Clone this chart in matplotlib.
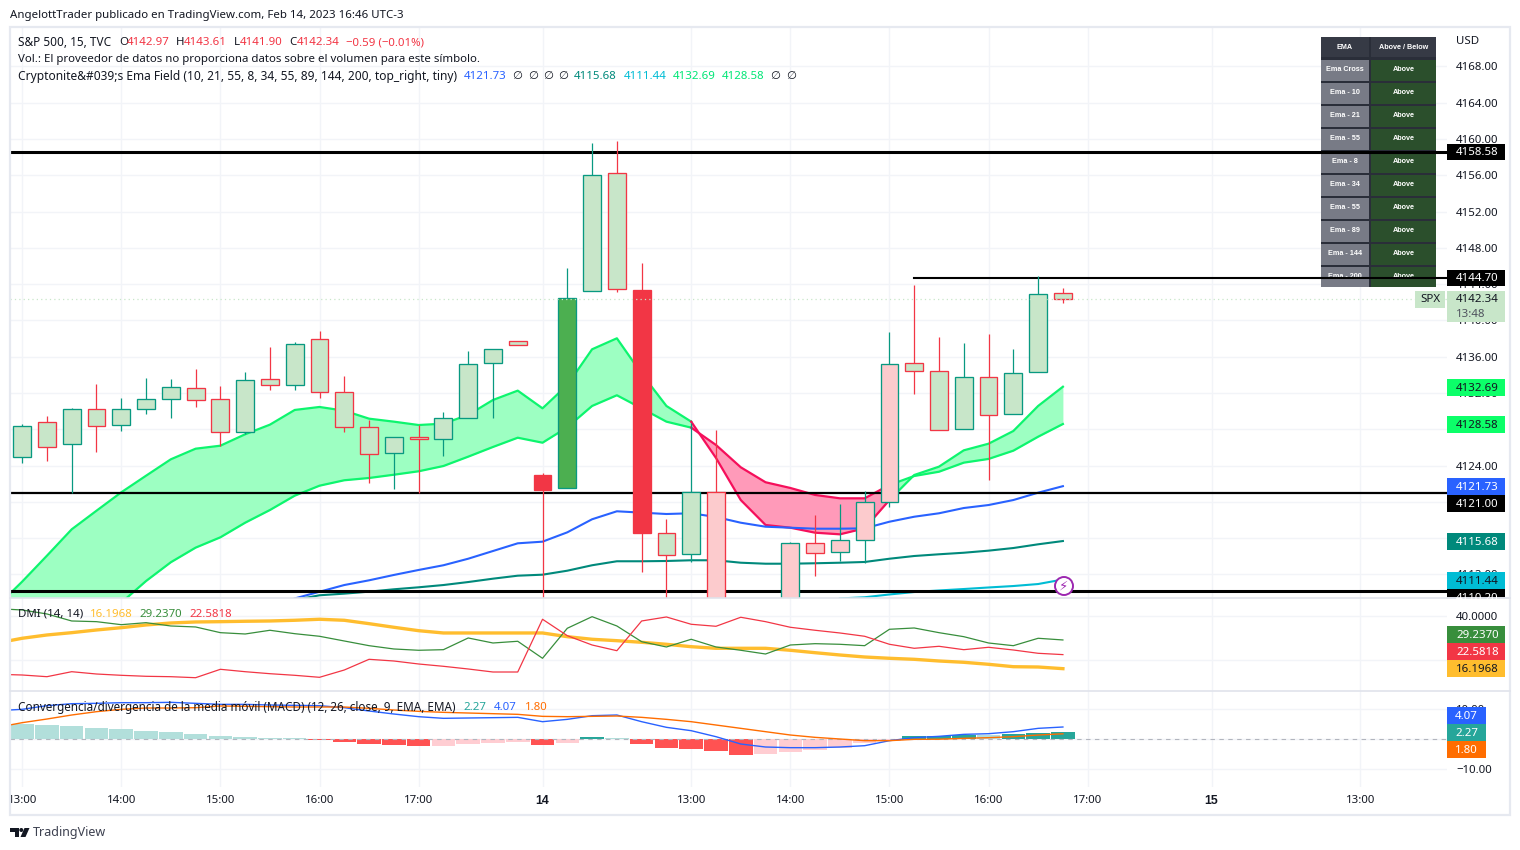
import numpy as np
import matplotlib
matplotlib.use("Agg")
import matplotlib.pyplot as plt
from matplotlib.patches import Rectangle, Circle, Polygon

nan = np.nan

# 15 min candles, S&P 500 (the ones under the pane are guessed, they get cut off anyway)
opens = [4124.91, 4128.77, 4126.35, 4130.20, 4128.44, 4130.20, 4131.31, 4132.52, 4131.31, 4127.67, 4133.51,
         4132.85, 4137.92, 4132.08, 4128.22, 4125.35, 4127.12, 4126.90, 4129.21, 4135.28, 4137.70, 4122.96,
         4121.49, 4143.21, 4156.22, 4143.36, 4116.53, 4114.22, 4121.05, 4107.00, 4104.00, 4107.00, 4115.43,
         4114.44, 4115.76, 4119.95, 4135.28, 4134.39, 4128.00, 4133.73, 4129.65, 4134.28, 4142.97]
closes = [4128.33, 4126.02, 4130.20, 4128.33, 4130.20, 4131.31, 4132.63, 4131.20, 4127.67, 4133.40, 4132.85,
          4137.37, 4132.08, 4128.22, 4125.24, 4127.12, 4126.90, 4129.21, 4135.17, 4136.82, 4137.26, 4121.34,
          4142.44, 4156.00, 4143.43, 4116.60, 4114.11, 4121.05, 4107.00, 4104.00, 4108.00, 4115.43, 4114.33,
          4115.76, 4119.95, 4135.17, 4134.39, 4127.89, 4133.73, 4129.54, 4134.17, 4142.88, 4142.34]
highs = [4128.58, 4129.47, 4130.35, 4132.99, 4131.45, 4133.66, 4133.55, 4134.65, 4132.77, 4134.32, 4137.07,
         4137.62, 4138.84, 4133.88, 4129.02, 4127.12, 4128.44, 4129.91, 4136.63, 4136.82, 4137.70, 4123.15,
         4145.78, 4159.53, 4159.78, 4146.33, 4118.11, 4128.69, 4127.92, 4108.50, 4109.00, 4115.54, 4118.55,
         4119.76, 4121.20, 4138.73, 4143.91, 4138.18, 4137.51, 4138.51, 4136.85, 4144.90, 4143.61]
lows = [4124.32, 4124.54, 4120.98, 4125.53, 4127.85, 4129.72, 4129.28, 4130.49, 4126.19, 4127.48, 4132.37,
        4132.37, 4131.48, 4127.74, 4122.11, 4121.45, 4120.98, 4125.09, 4129.21, 4129.28, 4137.26, 4109.00,
        4121.49, 4143.21, 4143.17, 4112.30, 4109.00, 4113.40, 4105.00, 4103.00, 4103.00, 4106.00, 4111.86,
        4113.51, 4113.23, 4119.40, 4131.92, 4127.89, 4128.00, 4122.44, 4129.65, 4134.28, 4141.90]

# ema field, the line arrays start one bar before the first candle
ema_fast = [4108.52, 4111.20, 4114.06, 4116.97, 4119.02, 4121.05, 4122.88, 4124.69, 4125.86, 4126.19, 4127.45, 4128.51,
            4130.13, 4130.46, 4130.05, 4129.17, 4128.84, 4128.47, 4128.62, 4129.58, 4131.23, 4132.26, 4130.31,
            4132.88, 4136.82, 4138.03, 4134.13, 4130.57, 4128.84, 4124.84, 4120.20, 4117.45, 4117.15, 4116.60,
            4116.42, 4117.08, 4120.20, 4122.96, 4123.88, 4125.68, 4126.41, 4127.81, 4130.57, 4132.69]
ema_slow = [4097.00, 4099.26, 4101.46, 4103.67, 4106.42, 4108.88, 4111.27, 4113.34, 4114.95, 4116.09, 4117.70, 4119.10,
            4120.68, 4121.78, 4122.38, 4122.63, 4122.99, 4123.37, 4123.95, 4124.98, 4126.05, 4127.07, 4126.52,
            4128.22, 4130.57, 4131.75, 4130.31, 4128.84, 4128.18, 4126.27, 4123.81, 4122.16, 4121.53, 4120.76,
            4120.39, 4120.39, 4121.86, 4122.85, 4123.32, 4124.32, 4124.73, 4125.64, 4127.18, 4128.58]
ema_blue = [nan] * 12 + [4109.35, 4110.09, 4110.83, 4111.35, 4111.94, 4112.49, 4113.01, 4113.73, 4114.58, 4115.43,
                         4115.61, 4116.64, 4118.08, 4118.96, 4118.81, 4118.66, 4118.74, 4118.33, 4117.70, 4117.26,
                         4117.15, 4117.04, 4117.04, 4117.08, 4117.81, 4118.36, 4118.74, 4119.32, 4119.65, 4120.20,
                         4121.01, 4121.73]
ema_teal = [nan] * 12 + [4109.18, 4109.70, 4109.88, 4110.10, 4110.36, 4110.58, 4110.83, 4111.16, 4111.53, 4111.86,
                         4111.97, 4112.41, 4113.01, 4113.45, 4113.45, 4113.48, 4113.56, 4113.56, 4113.29, 4113.18,
                         4113.18, 4113.23, 4113.29, 4113.37, 4113.73, 4114.03, 4114.22, 4114.39, 4114.62, 4114.91,
                         4115.32, 4115.68]
ema_cyan = [nan] * 34 + [4109.35, 4109.48, 4109.79, 4110.06, 4110.23, 4110.39, 4110.56, 4110.72, 4110.94, 4111.44]

hline_prices = [4158.58, 4121.00, 4110.20]
short_line_price = 4144.70

# DMI
adx = [27.86, 30.0, 31.5, 32.55, 33.77, 34.82, 36.05, 36.95, 37.41, 37.55, 37.73, 37.86, 38.18, 38.64, 38.18, 36.64,
       35.0, 33.45, 32.41, 32.41, 32.41, 32.41, 32.41, 30.73, 29.55, 28.91, 28.18, 27.27, 26.18, 25.45, 25.45,
       25.45, 24.55, 23.45, 22.41, 21.5, 20.91, 20.45, 19.68, 19.09, 18.18, 17.09, 16.95, 16.1968]
di_plus = [43.45, 42.86, 41.05, 37.86, 37.55, 36.18, 37.09, 35.59, 35.14, 32.55, 31.95, 33.64, 32.09, 30.91, 28.77, 26.64,
           25.14, 24.55, 24.82, 30.14, 27.86, 28.64, 20.91, 34.55, 39.82, 35.59, 28.45, 26.05, 29.55, 26.05, 24.55,
           22.86, 26.95, 27.55, 27.27, 26.64, 34.09, 34.68, 32.55, 30.73, 27.86, 26.64, 30.0, 29.237]
di_minus = [13.64, 13.32, 12.55, 14.82, 13.77, 13.18, 12.73, 12.55, 12.09, 15.91, 14.82, 13.91, 13.18, 12.27, 15.59, 20.45,
            19.68, 18.32, 17.27, 16.05, 14.68, 14.68, 38.64, 31.18, 26.95, 24.36, 37.86, 39.68, 36.36, 35.45, 39.55,
            37.55, 35.0, 33.64, 32.41, 30.91, 27.27, 25.45, 26.36, 24.82, 25.91, 24.68, 23.18, 22.5818]

# MACD
macd_hist = [5.18, 4.73, 4.4, 3.73, 3.4, 2.73, 2.4, 1.73, 1.07, 0.73, 0.4, 0.29, -0.27, -0.93, -1.6, -1.93, -2.27,
             -2.27, -1.6, -1.27, -0.93, -1.93, -1.27, 0.73, 0.29, -1.6, -2.89, -3.22, -3.89, -5.22, -4.89, -4.22,
             -3.55, -2.78, -1.27, -0.6, 1.07, 1.2, 1.4, 1.3, 1.73, 2.07, 2.27]
macd_line = [9.51, 9.96, 11.18, 11.84, 11.96, 12.18, 12.18, 12.29, 11.96, 11.62, 11.62, 11.4, 11.29, 11.18, 10.51, 9.4, 8.4,
             7.51, 6.96, 7.07, 7.18, 7.29, 5.84, 6.62, 7.84, 8.07, 5.84, 3.96, 2.84, 0.84, -1.6, -2.6, -2.82, -2.82,
             -2.6, -2.16, -0.49, 0.51, 0.96, 1.62, 1.84, 2.51, 3.62, 4.07]
macd_signal = [3.96, 5.51, 6.73, 8.07, 9.18, 9.96, 10.4, 10.4, 10.51, 11.07, 10.96, 10.84, 10.73, 10.73, 10.73, 10.29, 9.73,
               9.29, 8.96, 8.73, 8.51, 8.29, 7.62, 7.51, 7.62, 7.73, 7.29, 6.62, 5.84, 4.73, 3.62, 2.51, 1.4, 0.62,
               0.07, -0.49, -0.49, -0.04, 0.0, 0.29, 0.51, 0.84, 1.4, 1.80]

# axis
time_ticks = [0, 4, 8, 12, 16, 21, 27, 31, 35, 39, 43, 48, 54]
time_labels = ["13:00", "14:00", "15:00", "16:00", "17:00", "14", "13:00", "14:00", "15:00", "16:00", "17:00", "15", "13:00"]
price_ticks = [4112 + 4 * k for k in range(15)]

# table
table_rows = ["Ema Cross", "Ema - 10", "Ema - 21", "Ema - 55", "Ema - 8", "Ema - 34", "Ema - 55", "Ema - 89", "Ema - 144", "Ema - 200"]
table_status = ["Above"] * 10

W, H = 1520, 850
TEAL, RED = "#089981", "#f23645"
PALE, PINK = "#c8e6c9", "#fccbcd"
INK = "#131722"
GRID = "#f2f4f8"
ADX_COL = "#ffbd2e"
FS = 8.25
BOLD = "Liberation Sans"
X_LEFT, X_RIGHT = -0.49, 57.5

plt.rcParams["font.family"] = ["Noto Sans", "DejaVu Sans"]
plt.rcParams["font.size"] = FS

fig = plt.figure(figsize=(W / 100, H / 100), dpi=100, facecolor="white")


def pane(top, bottom):
    a = fig.add_axes([10 / W, 1 - bottom / H, 1437 / W, (bottom - top) / H])
    a.set_xlim(X_LEFT, X_RIGHT)
    for s in a.spines.values():
        s.set_visible(False)
    a.yaxis.tick_right()
    a.set_axisbelow(True)
    a.grid(True, color=GRID, lw=1)
    a.tick_params(length=0, labelcolor=INK, labelsize=FS, pad=6.5)
    a.set_xticks(time_ticks)
    a.set_xticklabels([])
    return a


ax = pane(28, 598)
ax.set_ylim(4109.40, 4172.24)
ax.set_yticks(price_ticks)
ax.set_yticklabels(["%.2f" % p for p in price_ticks])

ax_dmi = pane(598, 691)
ax_dmi.set_ylim(6.05, 48.3)
ax_dmi.set_yticks([20, 40])
ax_dmi.set_yticklabels(["20.0000", "40.0000"])

ax_macd = pane(691, 787)
ax_macd.set_ylim(-15.93, 16.07)
ax_macd.set_yticks([-10, 0, 10])
ax_macd.set_yticklabels(["\u221210.00", "0.00", "10.00"])
ax_macd.set_xticklabels(time_labels)
ax_macd.tick_params(axis="x", pad=6)
for lab, txt in zip(ax_macd.get_xticklabels(), time_labels):
    if ":" not in txt:
        lab.set_family(BOLD)
        lab.set_fontweight("bold")
        lab.set_fontsize(8.8)

# pixel overlay for the boxes and texts
ov = fig.add_axes([0, 0, 1, 1], zorder=10)
ov.set_xlim(0, W)
ov.set_ylim(H, 0)
ov.axis("off")
ov.patch.set_alpha(0)

# first time label gets cut by the frame like in the screenshot
first_label = ax_macd.get_xticklabels()[0]
first_label.set_clip_on(True)
first_label.set_clip_path(Rectangle((9, 787), 100, 28, transform=ov.transData))

xs = np.arange(len(opens))
xl = np.arange(-1, len(opens))

# ema field, green / pink / green
fast = np.array(ema_fast)
slow = np.array(ema_slow)
segments = [(0, 29, "#9dffc2", "#0df56e"), (28, 37, "#ff9ab9", "#f50f5b"), (36, 44, "#9dffc2", "#0df56e")]
for a, b, fill, line in segments:
    ax.fill_between(xl[a:b], fast[a:b], slow[a:b], color=fill, lw=0, zorder=2.2)
    ax.plot(xl[a:b], fast[a:b], color=line, lw=1.6, zorder=2.5)
    ax.plot(xl[a:b], slow[a:b], color=line, lw=1.6, zorder=2.5)
ax.plot(xl, ema_blue, color="#2962ff", lw=1.5, zorder=2.6)
ax.plot(xl, ema_teal, color="#00897b", lw=1.5, zorder=2.6)
ax.plot(xl, ema_cyan, color="#00bcd4", lw=1.5, zorder=2.6)

# levels
ax.axhline(hline_prices[0], color="black", lw=2.2, zorder=3)
ax.axhline(hline_prices[1], color="black", lw=1.6, zorder=3)
ax.axhline(hline_prices[2], color="black", lw=2.2, zorder=3)
ax.plot([36, X_RIGHT], [short_line_price] * 2, color="black", lw=1.5, zorder=3)

# candles
for i in xs:
    up = closes[i] >= opens[i]
    edge = TEAL if up else RED
    body = PALE
    if 28 <= i <= 35:
        body = PINK
    if i in (21, 25):
        body = RED
    if i == 22:
        body = "#4caf50"
    ax.vlines(i, lows[i], highs[i], color=edge, lw=0.9, zorder=4)
    ax.bar(i, abs(closes[i] - opens[i]), bottom=min(opens[i], closes[i]), width=0.72,
           facecolor=body, edgecolor=edge, lw=0.95, zorder=4.2)

ax.axhline(closes[-1], color=PALE, lw=0.9, ls=(0, (1, 2.5)), zorder=5)

# table, under the levels
tbl_font = dict(transform=ov.transData, color="white", fontsize=5.2, family=BOLD, fontweight="bold",
                ha="center", va="center", zorder=2.1)
ax.add_patch(Rectangle((1321, 37), 115, 250, transform=ov.transData, fc="#2a2e39", ec="none", zorder=2))
ax.add_patch(Rectangle((1321, 37), 48, 20, transform=ov.transData, fc="#363a45", ec="none", zorder=2.05))
ax.add_patch(Rectangle((1371, 37), 65, 20, transform=ov.transData, fc="#363a45", ec="none", zorder=2.05))
ax.text(1345, 47, "EMA", **tbl_font)
ax.text(1404, 47, "Above / Below", **tbl_font)
for k, (name, status) in enumerate(zip(table_rows, table_status)):
    top = 60 + 23 * k
    h = 20 if k == 9 else 21
    ax.add_patch(Rectangle((1321, top), 48, h, transform=ov.transData, fc="#787b86", ec="none", zorder=2.05))
    ax.add_patch(Rectangle((1371, top), 65, h, transform=ov.transData, fc="#2b4f2c", ec="none", zorder=2.05))
    t1 = ax.text(1345, top + 9.5, name, **tbl_font)
    t2 = ax.text(1404, top + 9.5, status, **tbl_font)
    if k == 9:
        clip = Rectangle((1321, top), 115, 11, transform=ov.transData)
        t1.set_clip_path(clip)
        t2.set_clip_path(clip)

# DMI
ax_dmi.plot(xl, adx, color=ADX_COL, lw=2.4, zorder=3)
ax_dmi.plot(xl, di_plus, color="#388e3c", lw=0.9, zorder=3)
ax_dmi.plot(xl, di_minus, color=RED, lw=0.9, zorder=3)

# MACD
hist_colors = []
for i, v in enumerate(macd_hist):
    prev = macd_hist[i - 1] if i else v
    if v >= 0:
        hist_colors.append("#26a69a" if v > prev else "#b2dfdb")
    else:
        hist_colors.append("#ff5252" if v < prev else "#ffcdd2")
ax_macd.bar(xs, macd_hist, width=0.95, color=hist_colors, zorder=2)
ax_macd.axhline(0, color="#b2b5be", lw=0.8, ls=(0, (4, 4)), zorder=2.5)
ax_macd.plot(xl, macd_line, color="#2962ff", lw=1.0, zorder=3)
ax_macd.plot(xl, macd_signal, color="#ff6d00", lw=1.0, zorder=3)

# frame and pane separators
ov.add_patch(Rectangle((10, 27), 1500, 788, fc="none", ec="#e6e9f0", lw=1.6))
ov.plot([10, 1510], [598, 598], color="#e0e3eb", lw=1.2)
ov.plot([10, 1510], [691, 691], color="#e0e3eb", lw=1.2)


def box(y0, y1, label, bg, fg, right=1505, tx=1456):
    ov.add_patch(Rectangle((1447, y0), right - 1447, y1 - y0, fc=bg, ec="none"))
    return ov.text(tx, (y0 + y1) / 2 + 0.6, label, color=fg, fontsize=FS, va="center", ha="left")


box(144, 160, "4158.58", "black", "white")
box(270, 286, "4144.70", "black", "white")
box(379, 396, "4132.69", "#0cff69", INK)
box(416, 433, "4128.58", "#0cff69", INK)
box(478, 495, "4121.73", "#2962ff", "white")
box(495, 512, "4121.00", "black", "white")
box(533, 550, "4115.68", "#00897b", "white")
box(572, 589, "4111.44", "#00bcd4", INK)
t = box(589, 606, "4110.20", "black", "white")
t.set_clip_path(Rectangle((1447, 589), 58, 9, transform=ov.transData))
ov.add_patch(Rectangle((1447, 598), 58, 9, fc="white", ec="none"))
ov.plot([1447, 1510], [598, 598], color="#e0e3eb", lw=1.2)

# last price
ov.add_patch(Rectangle((1447, 291), 58, 31, fc=PALE, ec="none"))
ov.text(1456, 300, "4142.34", color=INK, fontsize=FS, va="center")
ov.text(1456, 314.5, "13:48", color="#50535e", fontsize=FS, va="center")
ov.add_patch(Rectangle((1415, 291), 30, 17, fc=PALE, ec="none"))
ov.text(1430, 300, "SPX", color=INK, fontsize=FS, va="center", ha="center")

box(626, 643, "29.2370", "#388e3c", "white")
box(643, 660, "22.5818", RED, "white")
box(660, 677, "16.1968", ADX_COL, INK)
box(707, 724, "4.07", "#2962ff", "white", right=1486, tx=1455)
box(724, 741, "2.27", "#26a69a", "white", right=1486, tx=1455)
box(741, 758, "1.80", "#ff6d00", "white", right=1486, tx=1455)
ov.text(1456, 41.5, "USD", color=INK, fontsize=FS, va="center")

# the little flash icon
ov.add_patch(Circle((1064, 586), 9, fc="white", ec="#9c27b0", lw=1.4))
ov.text(1064, 586, "\u26a1", color="#9c27b0", fontsize=9.5, family="DejaVu Sans", ha="center", va="center")


def text_row(y, parts):
    for x, s, c in parts:
        ov.text(x, y, s, color=c, fontsize=FS, va="center", ha="left")


ov.text(10, 15.5, "AngelottTrader publicado en TradingView.com, Feb 14, 2023 16:46 UTC-3", color=INK, fontsize=FS, va="center")
ov.text(18, 42.5, "S&P 500, 15, TVC", color=INK, fontsize=8.5, va="center")
text_row(42.5, [(119, "O", INK), (127, "4142.97", RED), (176, "H", INK), (184, "4143.61", RED), (234, "L", INK), (240, "4141.90", RED),
                (289, "C", INK), (297, "4142.34", RED), (346, "\u22120.59 (\u22120.01%)", RED)])
ov.text(18, 59.5, "Vol.: El proveedor de datos no proporciona datos sobre el volumen para este s\u00edmbolo.", color=INK, fontsize=FS, va="center")
ov.text(18, 76.5, "Cryptonite&#039;s Ema Field (10, 21, 55, 8, 34, 55, 89, 144, 200, top_right, tiny)", color=INK, fontsize=8.6, va="center")
text_row(76.5, [(464, "4121.73", "#2962ff"), (512, "\u2205", INK), (528, "\u2205", INK), (543, "\u2205", INK), (558, "\u2205", INK),
                (574, "4115.68", "#00897b"), (624, "4111.44", "#00bcd4"), (673, "4132.69", "#00e676"), (722, "4128.58", "#00e676"),
                (770, "\u2205", INK), (786, "\u2205", INK)])
text_row(614.5, [(18, "DMI (14, 14)", INK), (90, "16.1968", ADX_COL), (139, "29.2370", "#388e3c"), (189, "22.5818", RED)])
ov.text(18, 707.5, "Convergencia/divergencia de la media m\u00f3vil (MACD) (12, 26, close, 9, EMA, EMA)", color=INK, fontsize=8.42, va="center")
text_row(707.5, [(463, "2.27", "#26a69a"), (494, "4.07", "#2962ff"), (525, "1.80", "#ff6d00")])

# footer logo
ov.add_patch(Polygon([(10, 828), (19, 828), (19, 837), (15, 837), (15, 832), (10, 832)], fc=INK, ec="none"))
ov.add_patch(Circle((21.3, 830), 2, fc=INK, ec="none"))
ov.add_patch(Polygon([(24.5, 828), (29.5, 828), (25.5, 837), (20.5, 837)], fc=INK, ec="none"))
ov.text(33, 832.5, "TradingView", color="#3d4150", fontsize=9.0, va="center")

fig.savefig("out.png", dpi=100)
